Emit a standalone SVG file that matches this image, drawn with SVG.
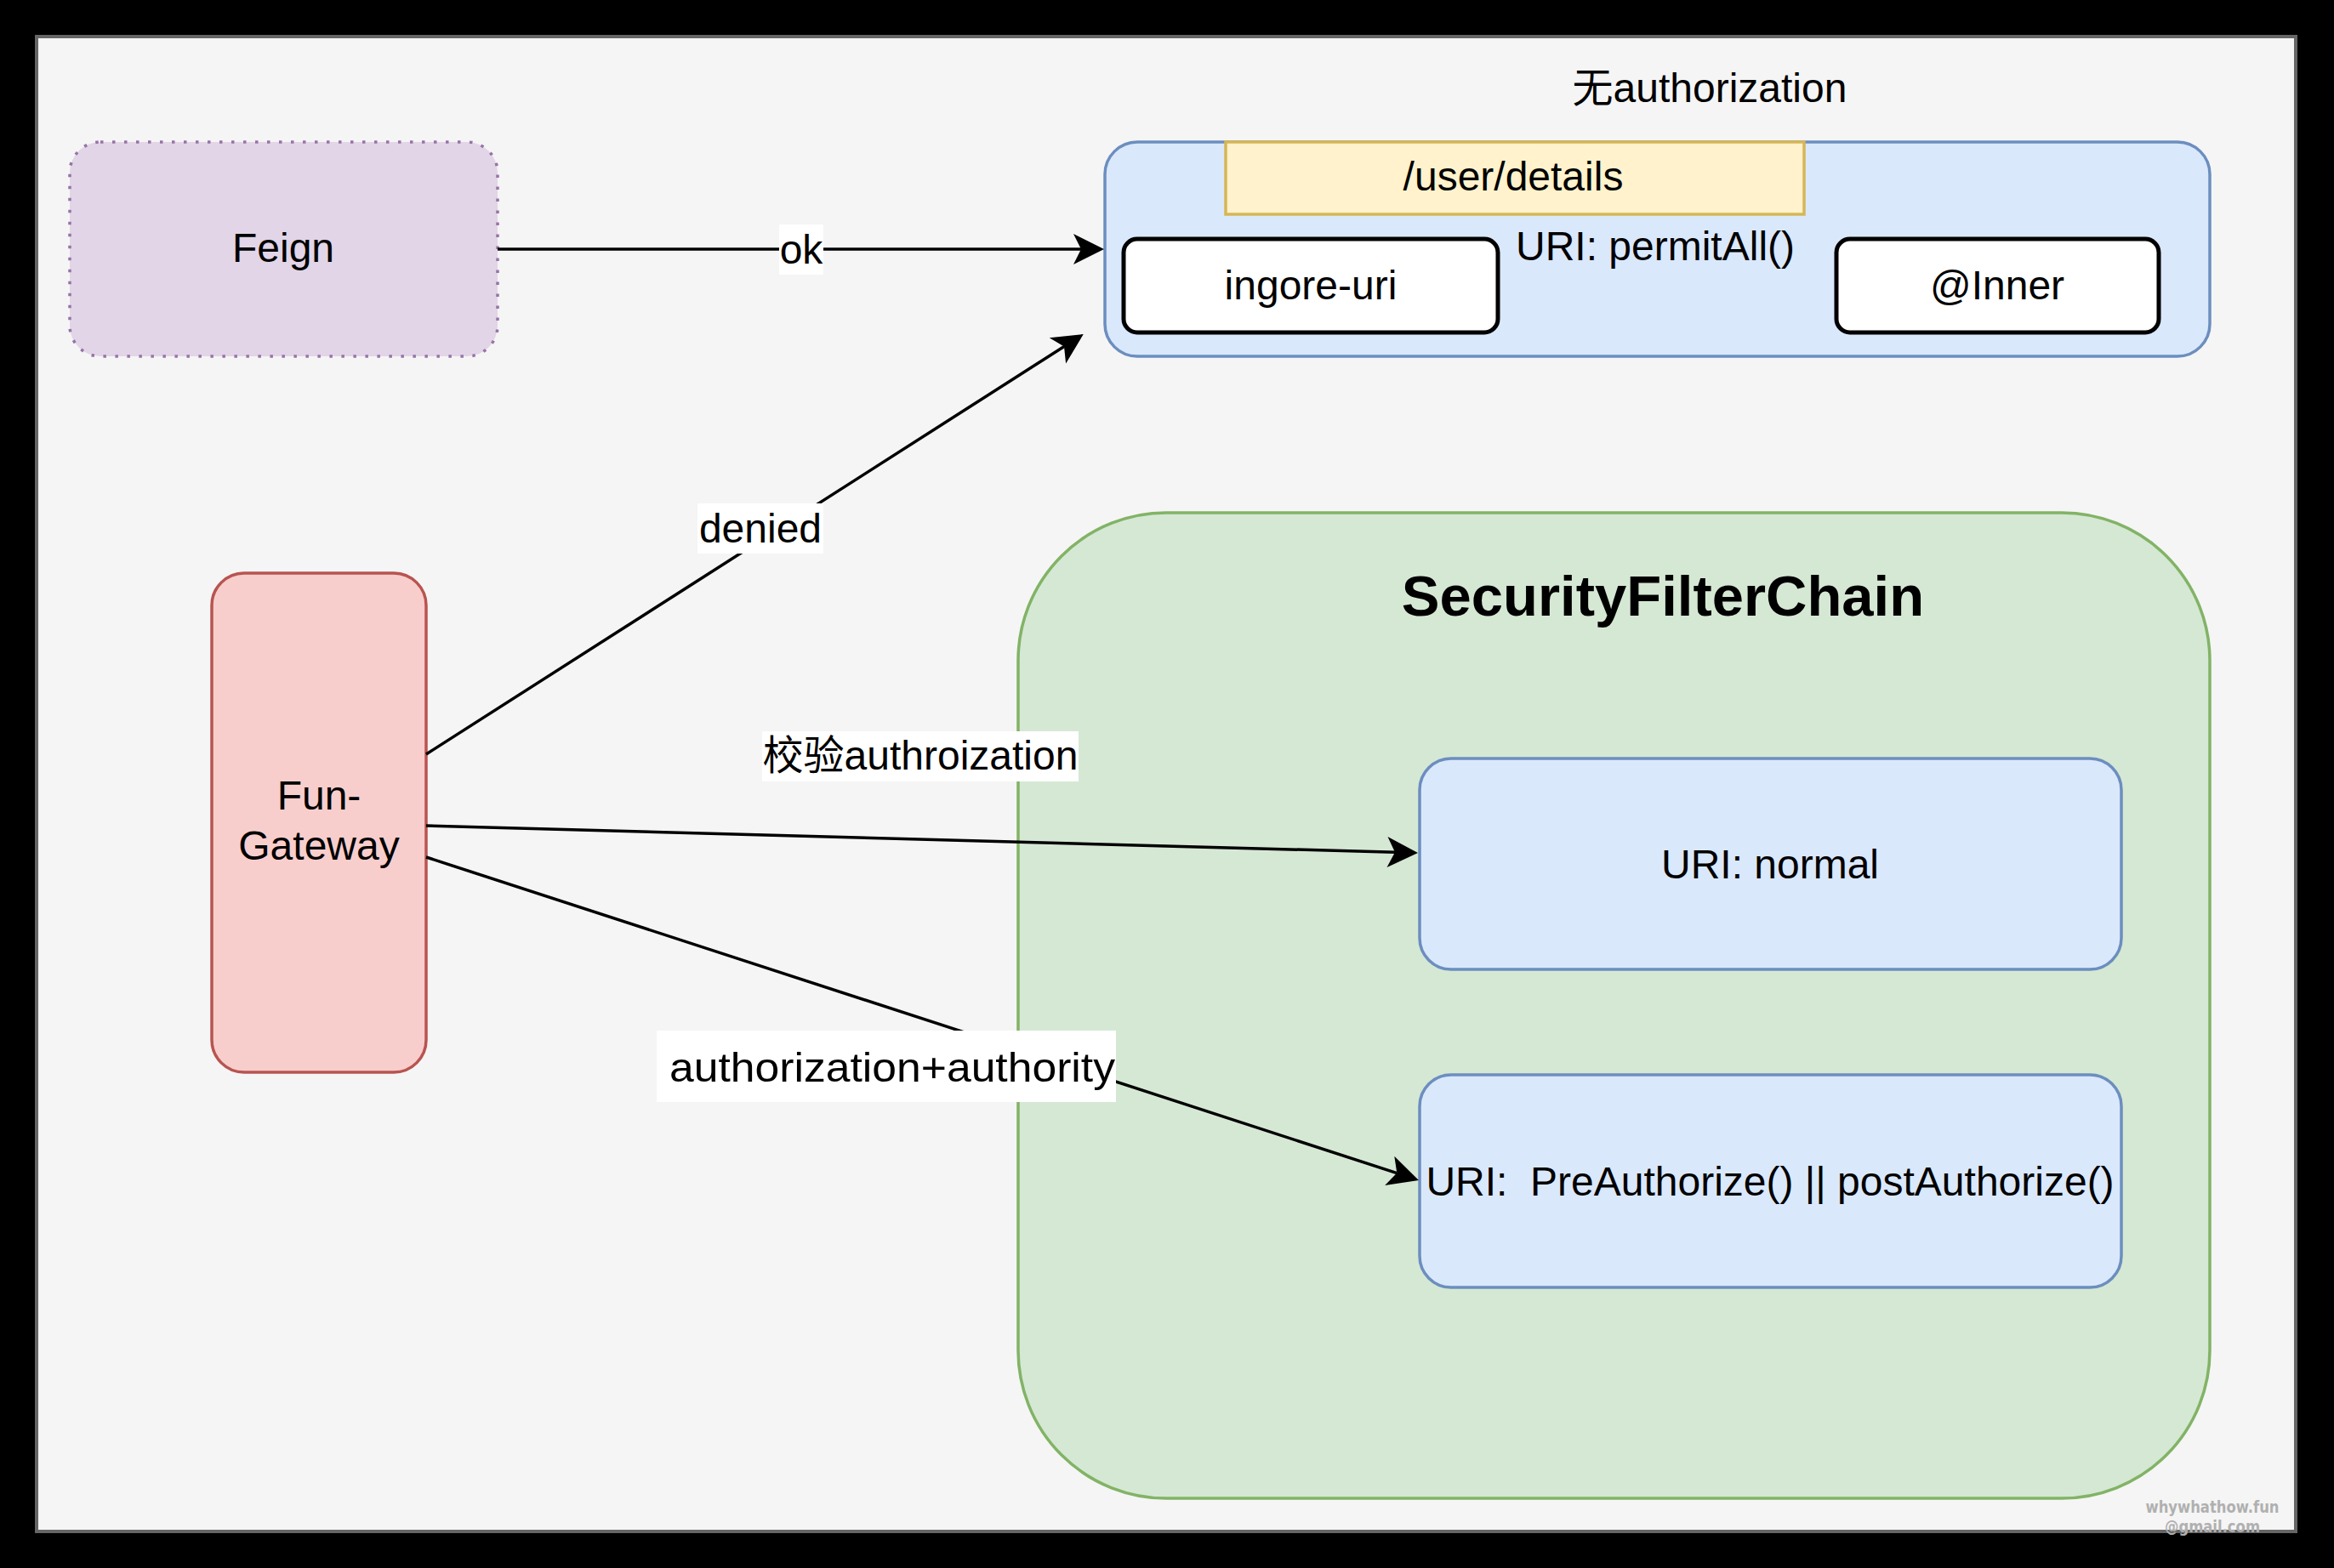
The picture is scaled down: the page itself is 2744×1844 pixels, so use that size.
<svg xmlns="http://www.w3.org/2000/svg" width="2744" height="1844" viewBox="0 0 2744 1844">
<style>
text{font-family:"Liberation Sans",Arial,"Noto Sans CJK SC",sans-serif;font-size:48px;fill:#000}
.c{text-anchor:middle}
.title{font-size:67px;font-weight:bold}
.edge{stroke:#000;stroke-width:3.5;fill:none}
.lbl{fill:#fff}
.wm{font-family:"DejaVu Sans",sans-serif;font-weight:bold;font-size:20px;fill:#b0b0b0;text-anchor:middle}
</style>
<defs>
<marker id="arr" viewBox="0 0 40 40" refX="11" refY="20" markerWidth="40" markerHeight="40" markerUnits="userSpaceOnUse" orient="auto">
<path d="M2,2 L38,20 L2,38 L11,20 Z" fill="#000"/>
</marker>
</defs>
<rect x="0" y="0" width="2744" height="1844" fill="#000"/>
<rect x="43" y="43" width="2656" height="1758" fill="#f5f5f5" stroke="#666" stroke-width="4"/>

<g id="feign">
<rect x="82" y="167" width="503" height="252" rx="36" fill="#e1d5e7" stroke="#9673a6" stroke-width="3.5" stroke-dasharray="3.5 10.5"/>
<text class="c" x="333" y="308">Feign</text>
</g>

<g id="permit-container">
<rect x="1299" y="167" width="1299" height="252" rx="38" fill="#dae8fc" stroke="#6c8ebf" stroke-width="3.5"/>
<text x="1782" y="306">URI: permitAll()</text>
</g>
<g id="no-auth-title">
<text class="c" x="2010" y="120">无authorization</text>
</g>
<g id="user-details">
<rect x="1441" y="167" width="680" height="85" fill="#fff2cc" stroke="#d6b656" stroke-width="3.5"/>
<text class="c" x="1779" y="224">/user/details</text>
</g>
<g id="ingore-uri">
<rect x="1321" y="281" width="440" height="110" rx="16" fill="#fff" stroke="#000" stroke-width="5"/>
<text class="c" x="1541" y="352">ingore-uri</text>
</g>
<g id="inner">
<rect x="2159" y="281" width="379" height="110" rx="16" fill="#fff" stroke="#000" stroke-width="5"/>
<text class="c" x="2348" y="352">@Inner</text>
</g>

<g id="security-filter-chain">
<rect x="1197" y="603" width="1401" height="1159" rx="174" fill="#d5e8d4" stroke="#82b366" stroke-width="3.5"/>
<text class="c title" x="1955" y="724">SecurityFilterChain</text>
</g>
<g id="uri-normal">
<rect x="1669" y="892" width="825" height="248" rx="37" fill="#dae8fc" stroke="#6c8ebf" stroke-width="3.5"/>
<text class="c" x="2081" y="1033">URI: normal</text>
</g>
<g id="uri-preauthorize">
<rect x="1669" y="1264" width="825" height="250" rx="37" fill="#dae8fc" stroke="#6c8ebf" stroke-width="3.5"/>
<text class="c" x="2081" y="1406" xml:space="preserve">URI:  PreAuthorize() || postAuthorize()</text>
</g>

<g id="fun-gateway">
<rect x="249" y="674" width="252" height="587" rx="38" fill="#f8cecc" stroke="#b85450" stroke-width="3.5"/>
<text class="c" x="375" y="952">Fun-</text>
<text class="c" x="375" y="1011">Gateway</text>
</g>

<g id="connectors">
<line class="edge" x1="585" y1="293" x2="1271" y2="293" marker-end="url(#arr)"/>
<line class="edge" x1="501" y1="887" x2="1251" y2="407.5" marker-end="url(#arr)"/>
<line class="edge" x1="501" y1="971" x2="1640" y2="1002.3" marker-end="url(#arr)"/>
<line class="edge" x1="501" y1="1008" x2="1642.3" y2="1379.6" marker-end="url(#arr)"/>
<rect class="lbl" x="916" y="264" width="52" height="59"/>
<text class="c" x="942" y="310">ok</text>
<rect class="lbl" x="820" y="592" width="148" height="59"/>
<text class="c" x="894" y="638">denied</text>
<rect class="lbl" x="896" y="860" width="372" height="59"/>
<text class="c" x="1082" y="905">校验authroization</text>
<rect class="lbl" x="772" y="1212" width="540" height="84"/>
<text x="787" y="1272" textLength="524" lengthAdjust="spacingAndGlyphs">authorization+authority</text>
</g>

<g id="watermark">
<text class="wm" x="2601" y="1779" textLength="157" lengthAdjust="spacingAndGlyphs">whywhathow.fun</text>
<text class="wm" x="2601" y="1802" textLength="112" lengthAdjust="spacingAndGlyphs">@gmail.com</text>
</g>
</svg>
